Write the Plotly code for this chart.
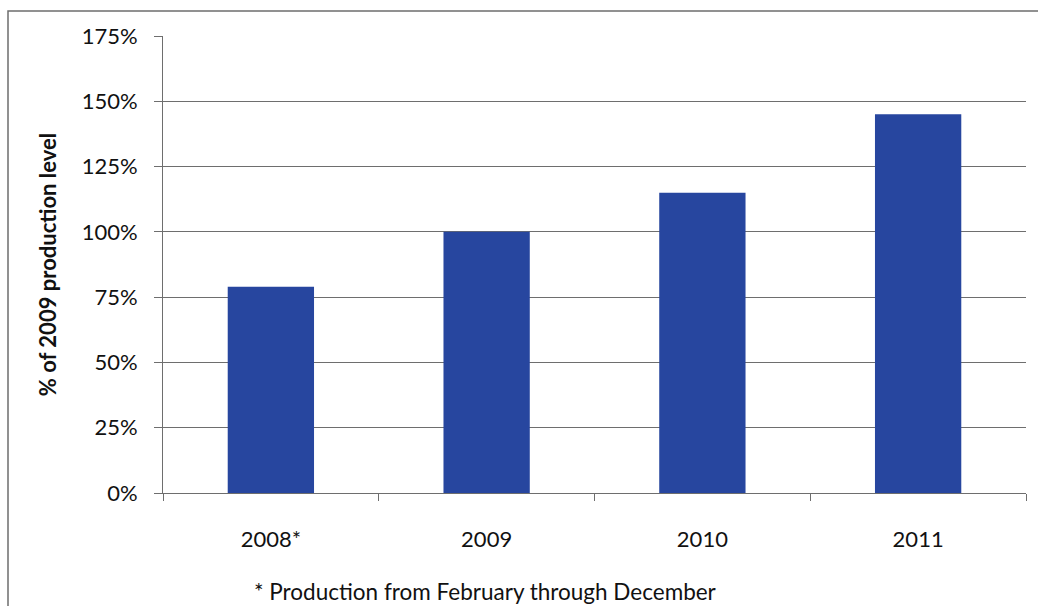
import plotly.graph_objects as go

categories = ["2008*", "2009", "2010", "2011"]
values = [79, 100, 115, 145]
y_ticks = [0, 25, 50, 75, 100, 125, 150, 175]
y_tick_labels = [f"{v}%" for v in y_ticks]

W, H = 1038, 606
L, R, T, B = 163, 12, 36, 113
pw, ph = W - L - R, H - T - B

def px_to_paper_x(x):
    return (x - L) / pw

def px_to_paper_y(y):
    return (H - B - y) / ph

fig = go.Figure()
fig.add_trace(go.Bar(
    x=categories, y=values,
    marker=dict(color="#27469F", line=dict(width=0)),
    width=0.4,
))

font_family = "Lato, 'Open Sans', sans-serif"
fig.update_layout(
    width=W, height=H,
    margin=dict(l=L, r=R, t=T, b=B),
    paper_bgcolor="white", plot_bgcolor="white",
    showlegend=False,
    font=dict(family=font_family, size=22, color="#111111"),
    xaxis=dict(
        type="category",
        tickson="boundaries",
        ticks="outside", ticklen=7, tickcolor="#6e6e6e", tickwidth=1,
        showline=True, linecolor="#6e6e6e", linewidth=1,
        showgrid=False,
        tickfont=dict(size=22),
        ticklabelstandoff=27,
        range=[-0.5, 3.5],
    ),
    yaxis=dict(
        range=[0, 175],
        tickvals=y_ticks, ticktext=y_tick_labels,
        ticks="outside", ticklen=8, tickcolor="#6e6e6e", tickwidth=1,
        showline=True, linecolor="#6e6e6e", linewidth=1,
        showgrid=True, gridcolor="#6e6e6e", gridwidth=1,
        zeroline=False,
        tickfont=dict(size=22),
        ticklabelstandoff=12,
        title=dict(text="<b>% of 2009 production level</b>", font=dict(size=22), standoff=18),
    ),
    shapes=[dict(
        type="rect", xref="paper", yref="paper",
        x0=px_to_paper_x(8), x1=px_to_paper_x(1045),
        y0=px_to_paper_y(620), y1=px_to_paper_y(11),
        line=dict(color="#6e6e6e", width=1.5), fillcolor="rgba(0,0,0,0)",
        layer="below",
    )],
    annotations=[dict(
        text="* Production from February through December",
        xref="paper", yref="paper",
        x=px_to_paper_x(252), y=px_to_paper_y(591),
        xanchor="left", yanchor="middle",
        showarrow=False, font=dict(size=22.5),
    )],
)

fig.write_html("out.html")
